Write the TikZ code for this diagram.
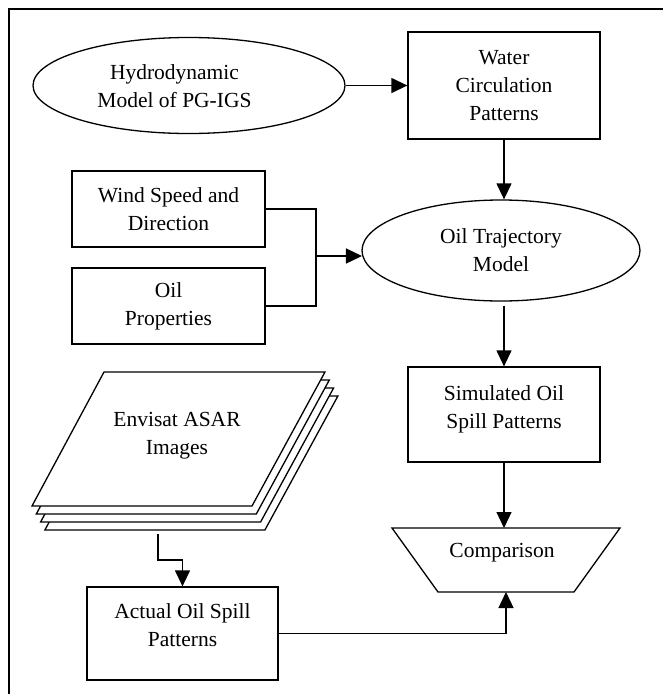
\documentclass[tikz,border=0pt]{standalone}
\usepackage{fontspec}
\setmainfont{Liberation Serif}
\usetikzlibrary{shapes.geometric,arrows.meta}
\begin{document}
\begin{tikzpicture}[x=1pt,y=-1pt,
  shp/.style={draw,line width=1.3pt,inner sep=0pt},
  boxn/.style={shp,rectangle},
  ell/.style={shp,ellipse},
  txt/.style={align=center,font=\fontsize{21.5}{28}\selectfont},
  sheet/.style={draw,line width=1.3pt,fill=white},
  conn/.style={line width=1.3pt},
  arr/.style={conn,-{Triangle[length=16pt,width=15pt]}}]
\useasboundingbox (0,0) rectangle (663,694);
\fill[white] (0,0) rectangle (663,694);
\draw[conn] (9,694) -- (9,9) -- (663,9);

% top row
\node[ell,minimum width=312pt,minimum height=96pt] (hydro) at (189,85.5) {};
\node[txt] (hydrot) at (174.5,86) {Hydrodynamic\\Model of PG-IGS};
\node[boxn,txt,minimum width=192pt,minimum height=107pt] (water) at (504,85.5) {Water\\Circulation\\Patterns};

% trajectory
\node[ell,txt,minimum width=278pt,minimum height=101pt] (traj) at (501,250.5) {Oil Trajectory\\Model};

% inputs
\node[boxn,txt,minimum width=193pt,minimum height=76pt] (wind) at (168.5,209) {Wind Speed and\\Direction};
\node[boxn,txt,minimum width=193pt,minimum height=76pt] (oilp) at (168.5,306) {Oil\\Properties};

% simulated
\node[boxn,minimum width=192pt,minimum height=95pt] (sim) at (504,414.5) {};
\node[txt] (simt) at (504,409) {Simulated Oil\\Spill Patterns};

% stack of images
\foreach \k in {3,2,1,0}
  \draw[sheet,shift={(\k*4.3,\k*8)}] (104,372) -- (325,372) -- (252,506) -- (32,506) -- cycle;
\node[txt] (env) at (177,436) {Envisat ASAR\\Images};
\coordinate (envb) at (158,534);

% actual
\node[boxn,minimum width=191pt,minimum height=93pt] (act) at (182.5,633.5) {};
\node[txt] (actt) at (182.5,625) {Actual Oil Spill\\Patterns};

% comparison
\draw[shp] (392,528) -- (620,528) -- (574,592) -- (438,592) -- cycle;
\coordinate (cmpT) at (504,528);
\coordinate (cmpB) at (506,592);
\node[txt] (cmp) at (502,553) {Comparison};

% connectors
\draw[arr] (hydro.east) -- (water.west);
\draw[arr] (water.south) -- (water.south |- traj.north);
\coordinate (mrg) at (316,256);
\draw[conn] (wind.east) -| (mrg) |- (oilp.east);
\draw[arr] (mrg) -- (mrg -| traj.182);
\draw[arr] ([yshift=-4pt]traj.south -| sim.north) -- (sim.north);
\draw[arr] (sim.south) -- (cmpT);
\draw[arr] (envb) -- ++(0,26) -| (act.north);
\draw[arr] (act.east) -| (cmpB);
\end{tikzpicture}
\end{document}
